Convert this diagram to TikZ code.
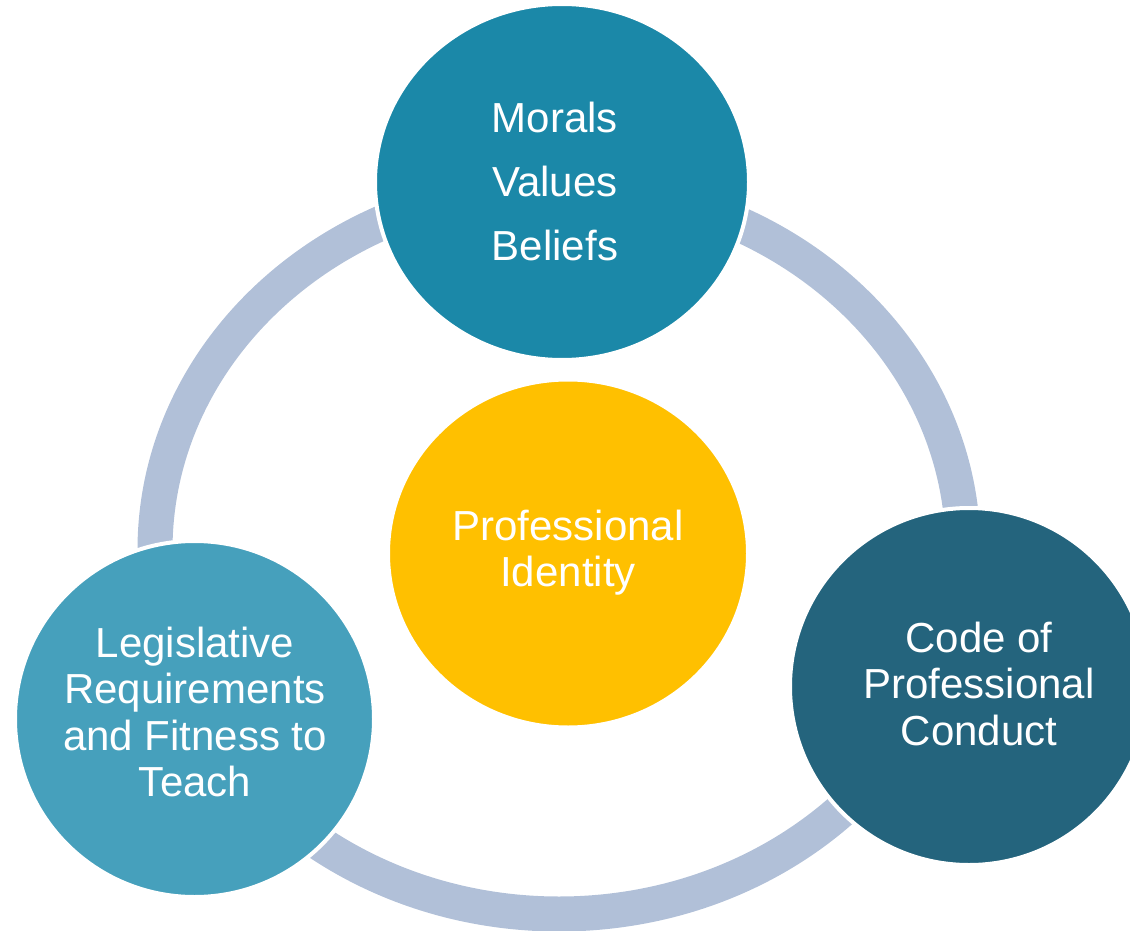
\documentclass[tikz,border=0pt]{standalone}
\usepackage{fontspec}
\setmainfont{Liberation Sans}
\usepackage{tikz}
\usetikzlibrary{shapes.geometric}
\definecolor{ringblue}{HTML}{B1C0D8}
\definecolor{topteal}{HTML}{1B88A8}
\definecolor{leftteal}{HTML}{46A0BC}
\definecolor{rightteal}{HTML}{24647D}
\definecolor{gold}{HTML}{FFC000}
\tikzset{
  ring/.style={draw=ringblue, line width=17.5pt},
  bubble/.style={ellipse, draw=white, line width=2pt, inner sep=0pt},
  caption/.style={align=center, text=white, inner sep=0pt, font=\fontsize{21}{23.25}\selectfont}
}

\begin{document}
\begin{tikzpicture}[x=0.5pt, y=-0.5pt]
\useasboundingbox (0,0) rectangle (1130,931);
% cycle ring behind the circles
\draw[ring] (559,550) ellipse [x radius=202pt, y radius=182pt];
\node[bubble, fill=topteal, minimum width=187pt, minimum height=178pt] (morals) at (562,182) {};
\node[bubble, fill=gold, minimum width=180pt, minimum height=174pt] (identity) at (568,553.5) {};
\node[bubble, fill=leftteal, minimum width=179.5pt, minimum height=178pt] (legis) at (194.5,719) {};
\node[bubble, fill=rightteal, minimum width=179pt, minimum height=178.5pt] (code) at (969,686.5) {};
% texts
\node[caption, font=\fontsize{21}{32}\selectfont] (moralsT) at (555,181) {Morals\\Values\\Beliefs};
\node[caption] (identityT) at (568,552.5) {Professional\\Identity};
\node[caption] (legisT) at (195,712) {Legislative\\Requirements\\and Fitness to\\Teach};
\node[caption] (codeT) at (979,683.5) {Code of\\Professional\\Conduct};
\end{tikzpicture}
\end{document}
